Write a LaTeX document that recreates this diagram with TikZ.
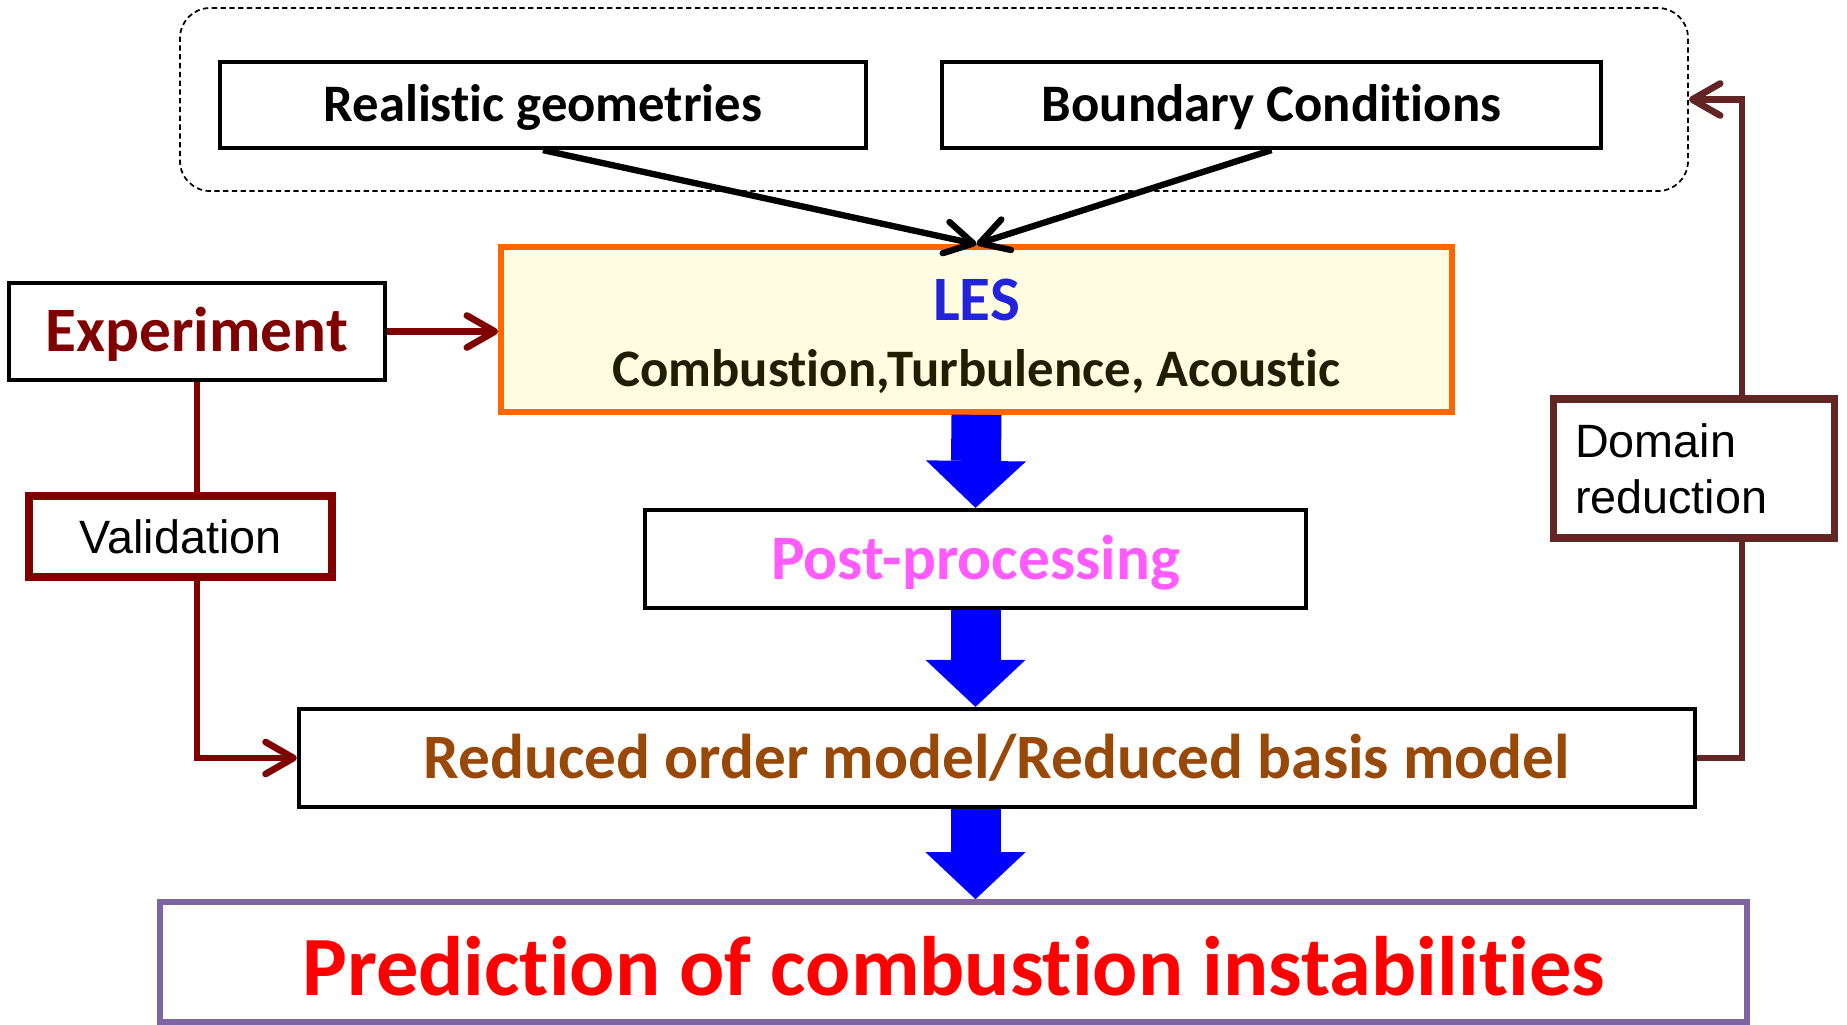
\documentclass[tikz,border=0pt]{standalone}
\usepackage{fontspec}
\setmainfont{Carlito}[Ligatures={NoCommon}]
\newfontfamily\arialfont{Liberation Sans}
\usetikzlibrary{arrows.meta}
\definecolor{expred}{HTML}{800000}
\definecolor{domainbrown}{HTML}{632523}
\definecolor{lesfill}{HTML}{FFFDE1}
\definecolor{lesorange}{HTML}{FF6600}
\definecolor{lesblue}{HTML}{2323DC}
\definecolor{lesdark}{HTML}{1F1F00}
\definecolor{postpink}{HTML}{FF5BFF}
\definecolor{rombrown}{HTML}{984807}
\definecolor{predpurple}{HTML}{8064A2}

\begin{document}
\begin{tikzpicture}[
        box/.style={draw, line width=1.2pt, minimum height=0.86cm, align=center, text height=11.25pt, text depth=1.6pt, font=\fontsize{15}{18}\selectfont\bfseries},
        bigbox/.style={box, minimum height=0.98cm, text height=13.5pt, text depth=1.9pt, font=\fontsize{18}{22}\selectfont\bfseries},
        thinbox/.style={line width=2pt, font=\arialfont\fontsize{13.3}{16}\selectfont},
        arrow/.style={line width=1.8pt, -{Straight Barb[length=0.28cm, width=0.32cm, round]}},
        redline/.style={draw=expred, line width=1.9pt},
        redarrow/.style={redline, -{Straight Barb[length=0.28cm, width=0.32cm, round]}},
        brownline/.style={draw=domainbrown, line width=1.9pt},
        brownarrow/.style={brownline, -{Straight Barb[length=0.28cm, width=0.32cm, round]}},
        blockarrow/.style={draw=blue, line width=0.5cm, -{Triangle[width=1cm, length=0.47cm, line width=0pt]}}
    ]
    \useasboundingbox (0,0) rectangle (18.47,-10.24);
    % inputs
    \node[draw, dash pattern=on 1.5pt off 1pt, line width=0.5pt, rounded corners=0.3cm, minimum width=15.08cm, minimum height=1.83cm] (inputs) at (9.34,-0.995) {};
    \node[box, minimum width=6.46cm] (realgeo) at (5.43,-1.05) {Realistic geometries};
    \node[box, minimum width=6.59cm] (boundary) at (12.715,-1.05) {Boundary Conditions};
    % main chain
    \node[draw=lesorange, fill=lesfill, line width=1.6pt, minimum width=9.51cm, minimum height=1.65cm, align=center, font=\fontsize{15}{18.8}\selectfont\bfseries] (les) at (9.765,-3.295) {\rule{0pt}{15.9pt}{\color{lesblue}\fontsize{18}{18.8}\selectfont LES}\\{\color{lesdark}Combustion,Turbulence, Acoustic}\rule[-1.4pt]{0pt}{0pt}};
    \node[bigbox, minimum width=6.61cm, text=postpink] (post) at (9.755,-5.59) {Post-processing};
    \node[bigbox, minimum width=13.96cm, text=rombrown] (rom) at (9.97,-7.58) {Reduced order model/Reduced basis model};
    \node[draw=predpurple, line width=1.6pt, minimum width=15.87cm, minimum height=1.2cm, text=red, text height=21.4pt, text depth=2.5pt, font=\fontsize{24}{28}\selectfont\bfseries] (pred) at (9.535,-9.62) {Prediction of combustion instabilities};
    % side boxes
    \node[bigbox, minimum width=3.76cm, minimum height=0.97cm, text=expred] (expt) at (1.97,-3.315) {Experiment};
    \node[draw=expred, thinbox, minimum width=3.03cm, minimum height=0.81cm] (valid) at (1.805,-5.365) {Validation};
    \node[draw=domainbrown, thinbox, text width=2.37cm, inner xsep=0.22cm, minimum height=1.39cm, align=left] (domain) at (16.935,-4.685) {Domain\\reduction};
    \coordinate (domline) at (17.42,0);

    \draw[arrow] (realgeo.south) -- (les.north);
    \draw[arrow] (boundary.south) -- (les.north);
    \draw[blockarrow] (les.south) -- (post.north);
    \draw[blockarrow] (post.south) -- (post.south |- rom.north);
    \draw[blockarrow] (post.south |- rom.south) -- (post.south |- pred.north);
    \draw[redarrow] (expt.east) -- (expt.east -| les.west);
    \draw[redline] (expt.south) -- (valid.north -| expt.south);
    \draw[redarrow] (valid.south -| expt.south) |- (rom.west);
    \draw[brownline] (rom.east) -| (domain.south -| domline);
    \draw[brownarrow] (domain.north -| domline) |- (inputs.east);
\end{tikzpicture}
\end{document}
